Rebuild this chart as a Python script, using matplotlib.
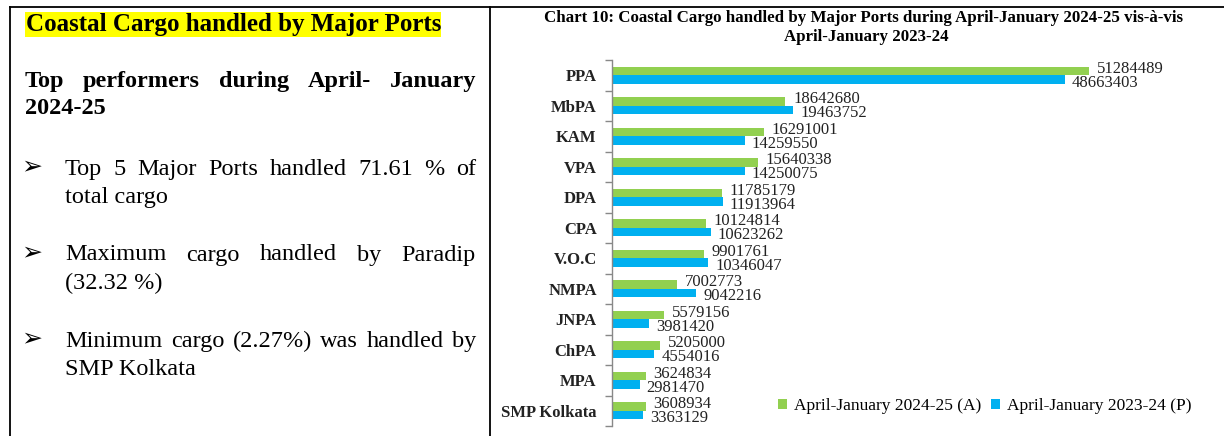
import matplotlib
matplotlib.use("Agg")
import matplotlib.pyplot as plt
import numpy as np
from matplotlib.lines import Line2D
from matplotlib.patches import Rectangle, Patch

# ---------------- data ----------------
ports = ["PPA", "MbPA", "KAM", "VPA", "DPA", "CPA", "V.O.C", "NMPA", "JNPA", "ChPA", "MPA", "SMP Kolkata"]
cargo_2024_25 = [51284489, 18642680, 16291001, 15640338, 11785179, 10124814, 9901761, 7002773, 5579156, 5205000, 3624834, 3608934]
cargo_2023_24 = [48663403, 19463752, 14259550, 14250075, 11913964, 10623262, 10346047, 9042216, 3981420, 4554016, 2981470, 3363129]
series_names = ["April-January 2024-25 (A)", "April-January 2023-24 (P)"]
chart_title = ["Chart 10: Coastal Cargo handled by Major Ports during April-January 2024-25 vis-\u00e0-vis",
               "April-January 2023-24"]
panel_heading = "Coastal Cargo handled by Major Ports"
sub_heading = ["Top performers during April- January", "2024-25"]
bullets = [
    ("Top 5 Major Ports handled 71.61 % of", "total cargo"),
    ("Maximum cargo handled by Paradip", "(32.32 %)"),
    ("Minimum cargo (2.27%) was handled by", "SMP Kolkata"),
]

GREEN = "#92D050"
BLUE = "#00B0F0"
SERIF = "Liberation Serif"

W, H = 1224, 436
fig = plt.figure(figsize=(W / 100, H / 100), dpi=100)
fig.patch.set_facecolor("white")


def fx(x):
    return x / W


def fy(y):
    return 1 - y / H


# ---------------- frame lines ----------------
for (x0, y0, x1, y1) in [(10, 7, W, 7), (10, 7, 10, H), (490, 7, 490, H)]:
    fig.add_artist(Line2D([fx(x0), fx(x1)], [fy(y0), fy(y1)], color="black", lw=1.3,
                          transform=fig.transFigure))

# ---------------- left text panel ----------------
fig.add_artist(Rectangle((fx(25), fy(37)), fx(441) - fx(25), fy(12) - fy(37),
                         facecolor="#FFFF00", edgecolor="none", transform=fig.transFigure, zorder=1))
fig.text(fx(26), fy(25), panel_heading, fontsize=18, fontweight="bold", family=SERIF,
         ha="left", va="center", zorder=2)

renderer = fig.canvas.get_renderer()


def justified(line, x0, x1, y, **kw):
    words = line.split()
    texts = [fig.text(0, fy(y), w_, ha="left", va="center", **kw) for w_ in words]
    widths = [t.get_window_extent(renderer).width for t in texts]
    gap = (x1 - x0 - sum(widths)) / (len(words) - 1)
    x = x0
    for t, wd in zip(texts, widths):
        t.set_x(fx(x))
        x += wd + gap


bold_kw = dict(fontsize=17.5, fontweight="bold", family=SERIF)
reg_kw = dict(fontsize=17.5, family=SERIF)

justified(sub_heading[0], 25, 476, 82, **bold_kw)
fig.text(fx(25), fy(108), sub_heading[1], ha="left", va="center", **bold_kw)

bullet_y = [169, 255, 341]
for (l1, l2), yb in zip(bullets, bullet_y):
    fig.text(fx(21), fy(yb - 3), "\u27a2", ha="left", va="center", fontsize=18, family=["DejaVu Sans"])
    justified(l1, 65, 476, yb, **reg_kw)
    fig.text(fx(65), fy(yb + 28), l2, ha="left", va="center", **reg_kw)

# ---------------- chart title ----------------
fig.text(fx(864), fy(18), chart_title[0], ha="center", va="center", fontsize=12.2,
         fontweight="bold", family=SERIF)
fig.text(fx(866), fy(37), chart_title[1], ha="center", va="center", fontsize=12.2,
         fontweight="bold", family=SERIF)

# ---------------- bar chart ----------------
ax = fig.add_axes([fx(612), fy(426), fx(1200) - fx(612), fy(60) - fy(426)])
ypos = np.arange(len(ports))
bh = 0.28
ax.barh(ypos - bh / 2, cargo_2024_25, height=bh, color=GREEN, label=series_names[0])
ax.barh(ypos + bh / 2, cargo_2023_24, height=bh, color=BLUE, label=series_names[1])
ax.set_ylim(len(ports) - 0.5, -0.5)
ax.set_xlim(0, 63.2e6)

for yv, v in zip(ypos, cargo_2024_25):
    ax.annotate(str(v), xy=(v, yv - bh / 2), xytext=(5.5, 1.5), textcoords="offset points",
                ha="left", va="center", fontsize=12, family=SERIF, color="#222222")
for yv, v in zip(ypos, cargo_2023_24):
    ax.annotate(str(v), xy=(v, yv + bh / 2), xytext=(5, -2.5), textcoords="offset points",
                ha="left", va="center", fontsize=12, family=SERIF, color="#222222")

for s in ["top", "right", "bottom"]:
    ax.spines[s].set_visible(False)
ax.spines["left"].set_color("#888888")
ax.spines["left"].set_linewidth(1.0)
ax.set_xticks([])
ax.set_yticks(ypos)
ax.set_yticklabels(ports, fontsize=12, fontweight="bold", family=SERIF, color="#222222")
ax.tick_params(axis="y", which="major", length=0, pad=11)
ax.set_yticks(np.arange(-0.5, len(ports), 1.0), minor=True)
ax.tick_params(axis="y", which="minor", length=5, color="#888888", width=1.0)
ax.set_facecolor("none")

handles = [Patch(facecolor=GREEN), Patch(facecolor=BLUE)]
fig.legend(handles, series_names, loc="center left", bbox_to_anchor=(fx(778), fy(406)),
           ncol=2, frameon=False, borderpad=0, borderaxespad=0, handlelength=0.5,
           handleheight=0.5, handletextpad=0.4, columnspacing=0.6,
           prop={"family": SERIF, "size": 12.5})

fig.savefig("out.png", dpi=100, facecolor="white")
